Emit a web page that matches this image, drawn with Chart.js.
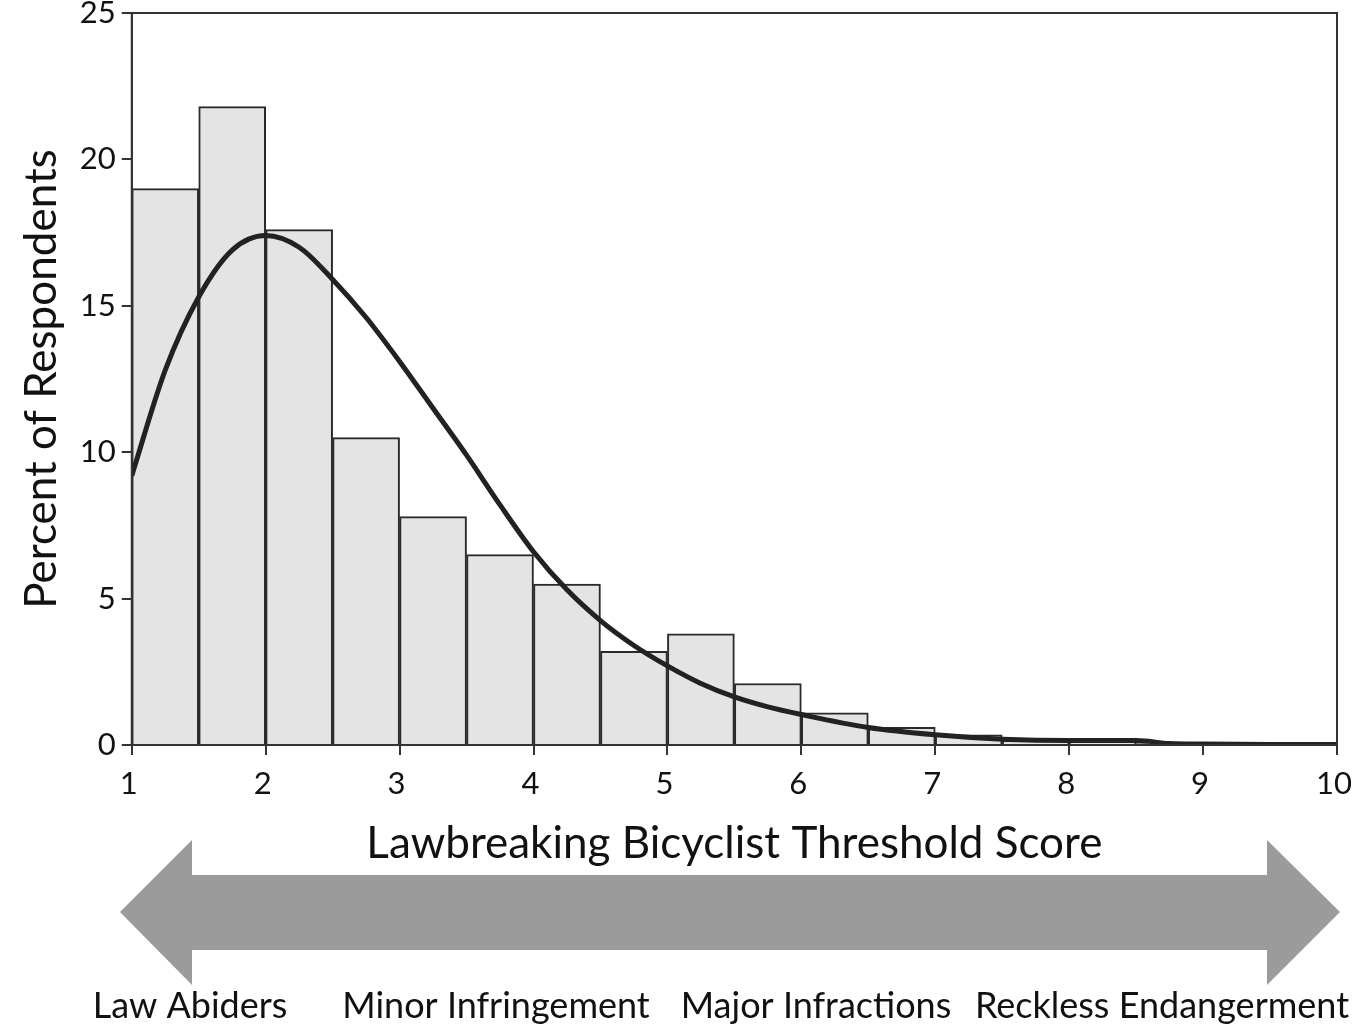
<!DOCTYPE html>
<html>
<head>
<meta charset="utf-8">
<script src="https://cdn.jsdelivr.net/npm/chart.js@4"></script>
<style>
  html, body { margin: 0; padding: 0; background: #fff; }
  #wrap { width: 1353px; height: 1026px; }
</style>
</head>
<body>
<div id="wrap"><canvas id="score-chart"></canvas></div>
<script>
// histogram bins (centres, width 0.5) and percentages
const binCenters = [1.25, 1.75, 2.25, 2.75, 3.25, 3.75, 4.25, 4.75, 5.25, 5.75, 6.25, 6.75, 7.25, 7.75, 8.25, 8.75, 9.25, 9.75];
const percent = [19.0, 21.8, 17.6, 10.5, 7.8, 6.5, 5.5, 3.2, 3.8, 2.1, 1.1, 0.6, 0.35, 0.15, 0.1, 0.05, 0, 0];

// fitted curve
const curveX = [1, 1.25, 1.5, 1.75, 2, 2.25, 2.5, 2.75, 3, 3.25, 3.5, 3.75, 4, 4.25, 4.5, 4.75, 5, 5.25, 5.5, 5.75, 6, 6.5, 7, 7.5, 8, 8.5, 8.75, 9, 9.5, 10];
const curveY = [9.2, 12.8, 15.3, 16.9, 17.4, 17.0, 15.9, 14.6, 13.1, 11.5, 9.9, 8.2, 6.6, 5.3, 4.25, 3.4, 2.7, 2.1, 1.64, 1.3, 1.04, 0.6, 0.35, 0.2, 0.15, 0.15, 0.05, 0.03, 0.02, 0.02];

const xTicks = [1, 2, 3, 4, 5, 6, 7, 8, 9, 10];
const yTicks = [0, 5, 10, 15, 20, 25];
const bandLabels = ["Law Abiders", "Minor Infringement", "Major Infractions", "Reckless Endangerment"];
const bandLabelX = [190, 496, 816, 1162];

const fontFam = "Lato, 'Open Sans', sans-serif";

const extras = {
    id: "extras",
    afterDraw(chart) {
        const c = chart.ctx;
        const a = chart.chartArea;
        c.save();
        // plot frame
        c.strokeStyle = "#333";
        c.lineWidth = 2;
        c.strokeRect(a.left, a.top, a.right - a.left, a.bottom - a.top);

        // double arrow
        c.fillStyle = "#9b9b9b";
        c.beginPath();
        c.moveTo(120, 912);
        c.lineTo(192, 840);
        c.lineTo(192, 875);
        c.lineTo(1267, 875);
        c.lineTo(1267, 840);
        c.lineTo(1340, 912);
        c.lineTo(1267, 985);
        c.lineTo(1267, 950);
        c.lineTo(192, 950);
        c.lineTo(192, 985);
        c.closePath();
        c.fill();

        // labels under the arrow
        c.fillStyle = "#111";
        c.font = "36px " + fontFam;
        c.textAlign = "center";
        c.textBaseline = "middle";
        bandLabels.forEach((t, i) => c.fillText(t, bandLabelX[i], 1006));
        c.restore();
    }
};

const ctx = document.getElementById("score-chart").getContext("2d");

const scoreChart = new Chart(ctx, {
    type: "bar",
    data: {
        datasets: [{
            type: "line",
            label: "fit",
            data: curveX.map((x, i) => ({x: x, y: curveY[i]})),
            borderColor: "#222",
            borderWidth: 5,
            pointRadius: 0,
            cubicInterpolationMode: "monotone",
            fill: false,
            order: 0
        },
        {
            type: "bar",
            label: "percent",
            data: binCenters.map((x, i) => ({x: x, y: percent[i]})),
            backgroundColor: "#e4e4e4",
            borderColor: "#2a2a2a",
            borderWidth: 2,
            barPercentage: 1,
            categoryPercentage: 1,
            order: 1
        }]
    },
    options: {
        responsive: true,
        maintainAspectRatio: false,
        animation: false,
        layout: { padding: { left: 15, right: 0, top: 0, bottom: 156 } },
        plugins: { legend: { display: false }, tooltip: { enabled: false } },
        scales: {
            x: {
                type: "linear",
                min: 1,
                max: 10,
                offset: false,
                afterBuildTicks: (s) => { s.ticks = xTicks.map(v => ({value: v})); },
                afterFit: (s) => { s.paddingRight = 16; },
                ticks: { color: "#111", font: { size: 31, family: fontFam }, padding: 10, maxRotation: 0, labelOffset: -3 },
                grid: { drawOnChartArea: false, offset: false, tickLength: 10, color: "#333", lineWidth: 2 },
                border: { color: "#333", width: 2 },
                title: { display: true, text: "Lawbreaking Bicyclist Threshold Score", color: "#111",
                         font: { size: 44, family: fontFam }, padding: { top: 5, bottom: 0 } }
            },
            y: {
                min: 0,
                max: 25,
                afterBuildTicks: (s) => { s.ticks = yTicks.map(v => ({value: v})); },
                afterFit: (s) => { s.paddingTop = 13; },
                ticks: { color: "#111", font: { size: 31, family: fontFam }, padding: 6 },
                grid: { drawOnChartArea: false, tickLength: 10, color: "#333", lineWidth: 2 },
                border: { color: "#333", width: 2 },
                title: { display: true, text: "Percent of Respondents", color: "#111",
                         font: { size: 44, family: fontFam }, padding: { top: 0, bottom: 6 } }
            }
        }
    },
    plugins: [extras]
});
</script>
</body>
</html>
